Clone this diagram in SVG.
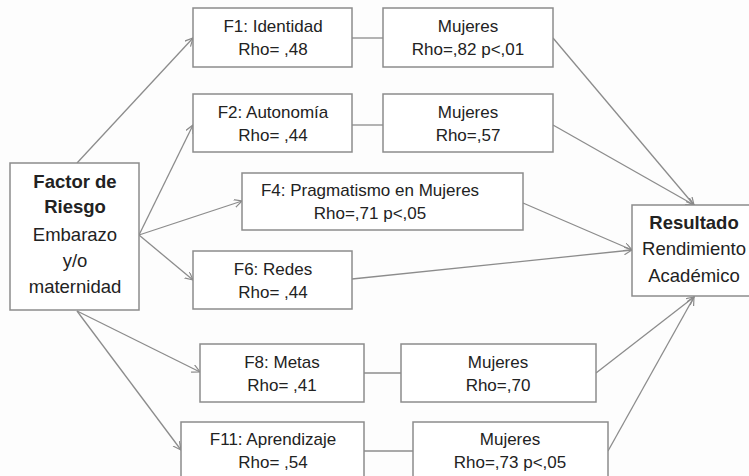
<svg xmlns="http://www.w3.org/2000/svg" width="749" height="476" viewBox="0 0 749 476">
<defs>
<marker id="arr" markerWidth="10" markerHeight="10" refX="8" refY="4" orient="auto" markerUnits="userSpaceOnUse">
<path d="M0,0 L8,4 L0,8" fill="none" stroke="#8a8a8a" stroke-width="1.2"/>
</marker>
<style>
.box{fill:#ffffff;stroke:#8c8c8c;stroke-width:1.5}
.t{font-family:"Liberation Sans",Arial,sans-serif;font-size:17px;fill:#222222;text-anchor:middle}
.b{font-weight:bold;font-size:18.5px}
.big{font-size:18.5px}
.c{stroke:#8c8c8c;stroke-width:1.3;fill:none}
.a{marker-end:url(#arr)}
</style>
</defs>
<rect width="749" height="476" fill="#fdfdfd"/>
<g id="connectors">
<line class="c a" x1="77" y1="163" x2="193" y2="38"/>
<line class="c a" x1="139" y1="235" x2="193" y2="125"/>
<line class="c a" x1="139" y1="235" x2="242" y2="201"/>
<line class="c a" x1="139" y1="235" x2="193" y2="280"/>
<line class="c a" x1="77" y1="311" x2="200" y2="372"/>
<line class="c a" x1="77" y1="311" x2="181" y2="450"/>
<line class="c" x1="352" y1="38" x2="383" y2="38"/>
<line class="c" x1="352" y1="125" x2="383" y2="125"/>
<line class="c" x1="364" y1="373" x2="401" y2="373"/>
<line class="c" x1="364" y1="451" x2="413" y2="451"/>
<line class="c a" x1="553" y1="38" x2="694" y2="205"/>
<line class="c a" x1="553" y1="125" x2="694" y2="205"/>
<line class="c a" x1="523" y1="203" x2="632" y2="250"/>
<line class="c a" x1="352" y1="279" x2="632" y2="250"/>
<line class="c a" x1="596" y1="373" x2="694" y2="297"/>
<line class="c a" x1="608" y1="451" x2="694" y2="297"/>
</g>
<g id="factor">
<rect class="box" x="10" y="163" width="129" height="147"/>
<text class="t b" x="75" y="188">Factor de</text>
<text class="t b" x="75" y="213">Riesgo</text>
<text class="t big" x="75" y="241">Embarazo</text>
<text class="t big" x="75" y="267">y/o</text>
<text class="t big" x="75" y="293">maternidad</text>
</g>
<g id="f1">
<rect class="box" x="193" y="8" width="159" height="59"/>
<text class="t" x="273" y="32">F1: Identidad</text>
<text class="t" x="273" y="55">Rho= ,48</text>
</g>
<g id="m1">
<rect class="box" x="383" y="8" width="170" height="59"/>
<text class="t" x="468" y="32">Mujeres</text>
<text class="t" x="468" y="55">Rho=,82 p&lt;,01</text>
</g>
<g id="f2">
<rect class="box" x="193" y="94" width="159" height="58"/>
<text class="t" x="273" y="118">F2: Autonomía</text>
<text class="t" x="273" y="141">Rho= ,44</text>
</g>
<g id="m2">
<rect class="box" x="383" y="94" width="170" height="58"/>
<text class="t" x="468" y="118">Mujeres</text>
<text class="t" x="468" y="141">Rho=,57</text>
</g>
<g id="f4">
<rect class="box" x="242" y="173" width="281" height="57"/>
<text class="t" x="370" y="196">F4: Pragmatismo en Mujeres</text>
<text class="t" x="370" y="219">Rho=,71 p&lt;,05</text>
</g>
<g id="f6">
<rect class="box" x="193" y="251" width="159" height="58"/>
<text class="t" x="273" y="275">F6: Redes</text>
<text class="t" x="273" y="298">Rho= ,44</text>
</g>
<g id="f8">
<rect class="box" x="200" y="344" width="164" height="58"/>
<text class="t" x="282" y="368">F8: Metas</text>
<text class="t" x="282" y="391">Rho= ,41</text>
</g>
<g id="m8">
<rect class="box" x="401" y="344" width="195" height="58"/>
<text class="t" x="498" y="368">Mujeres</text>
<text class="t" x="498" y="391">Rho=,70</text>
</g>
<g id="f11">
<rect class="box" x="181" y="422" width="183" height="60"/>
<text class="t" x="273" y="445">F11: Aprendizaje</text>
<text class="t" x="273" y="468">Rho= ,54</text>
</g>
<g id="m11">
<rect class="box" x="413" y="422" width="195" height="60"/>
<text class="t" x="510" y="445">Mujeres</text>
<text class="t" x="510" y="468">Rho=,73 p&lt;,05</text>
</g>
<g id="resultado">
<rect class="box" x="632" y="205" width="130" height="91"/>
<text class="t b" x="694" y="229">Resultado</text>
<text class="t big" x="694" y="255">Rendimiento</text>
<text class="t big" x="694" y="282">Académico</text>
</g>
</svg>
